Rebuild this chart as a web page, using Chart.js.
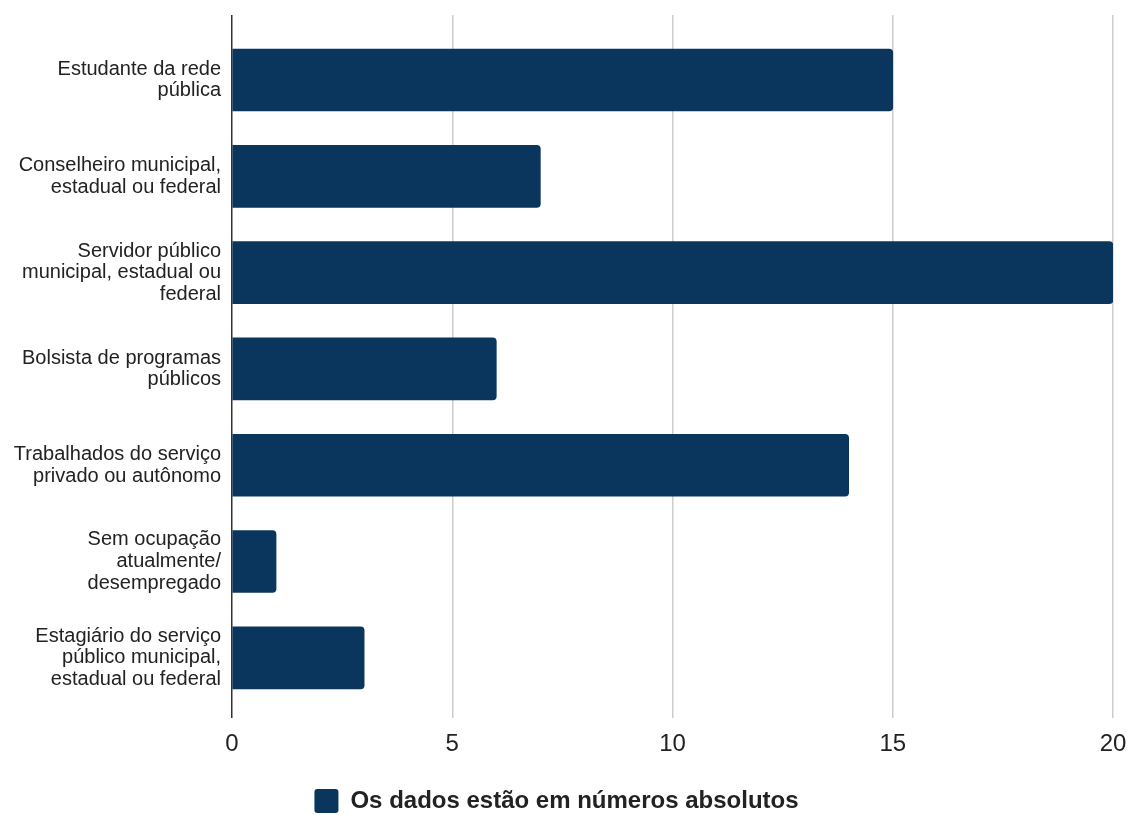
<!DOCTYPE html>
<html lang="pt-BR">
<head>
<meta charset="UTF-8">
<title>Ocupação</title>
<script src="https://cdn.jsdelivr.net/npm/chart.js"></script>
<style>
  html, body { margin: 0; padding: 0; background: #fff; }
  #wrap { width: 1130px; height: 815px; }
</style>
</head>
<body>
<div id="wrap"><canvas id="grafico"></canvas></div>
<script>
// categorias (cada uma quebrada em linhas como no original)
const categorias = [
  ["Estudante da rede", "pública"],
  ["Conselheiro municipal,", "estadual ou federal"],
  ["Servidor público", "municipal, estadual ou", "federal"],
  ["Bolsista de programas", "públicos"],
  ["Trabalhados do serviço", "privado ou autônomo"],
  ["Sem ocupação", "atualmente/", "desempregado"],
  ["Estagiário do serviço", "público municipal,", "estadual ou federal"]
];
const valores = [15, 7, 20, 6, 14, 1, 3];
const xTicks = [0, 5, 10, 15, 20];
const legenda = "Os dados estão em números absolutos";

const azul = "#0a365e";
const fonte = "'Liberation Sans', Arial, sans-serif";

new Chart(document.getElementById("grafico"), {
  type: "bar",
  data: {
    datasets: [{
      label: legenda,
      data: valores.map((v, i) => ({ x: v, y: i })),
      backgroundColor: azul,
      borderRadius: 4,
      borderSkipped: "start",
      barThickness: 62
    }]
  },
  options: {
    indexAxis: "y",
    responsive: true,
    maintainAspectRatio: false,
    animation: false,
    layout: { padding: { top: 15, right: 17, left: 0, bottom: -8 } },
    scales: {
      x: {
        type: "linear",
        min: 0,
        max: 20,
        afterBuildTicks: s => { s.ticks = xTicks.map(v => ({ value: v })); },
        afterFit: s => { s.height = 69; s.paddingLeft = 0; s.paddingRight = 0; },
        grid: {
          color: c => (c.tick && c.tick.value === 0) ? "#333" : "#cccccc",
          lineWidth: 1.5,
          drawTicks: false
        },
        border: { display: false },
        ticks: { color: "#222", font: { family: fonte, size: 24 }, padding: 12 }
      },
      y: {
        type: "linear",
        reverse: true,
        offset: false,
        min: -0.675,
        max: 6.625,
        afterBuildTicks: s => { s.ticks = categorias.map((_, i) => ({ value: i })); },
        afterFit: s => { s.width = 232; s.paddingTop = 0; s.paddingBottom = 0; },
        grid: { display: false, drawTicks: false },
        border: { display: false },
        ticks: {
          color: "#222",
          font: { family: fonte, size: 20, lineHeight: 1.08 },
          padding: 11,
          autoSkip: false,
          callback: v => categorias[v]
        }
      }
    },
    plugins: {
      legend: {
        position: "bottom",
        labels: {
          boxWidth: 24,
          boxHeight: 24,
          useBorderRadius: true,
          borderRadius: 3,
          color: "#222",
          padding: 2,
          font: { family: fonte, size: 24, weight: "bold" }
        }
      },
      tooltip: { enabled: false }
    }
  }
});
</script>
</body>
</html>
